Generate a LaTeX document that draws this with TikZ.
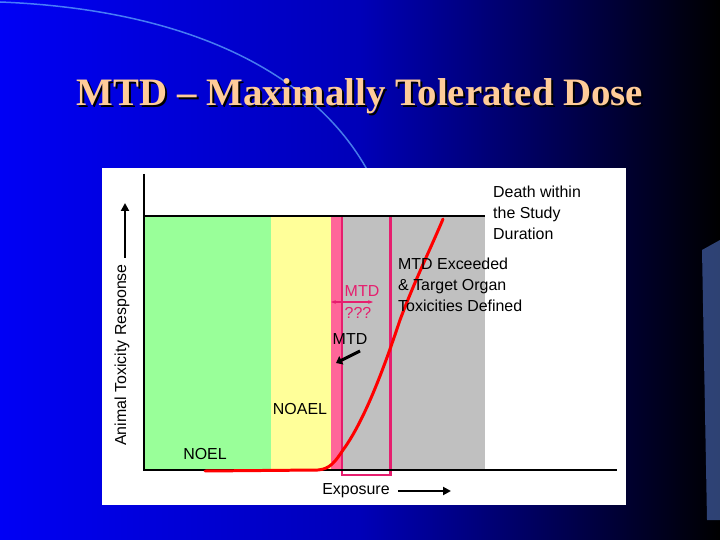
\documentclass[tikz,border=0pt]{standalone}
\usepackage{fontspec}
\setmainfont{Liberation Sans}
\newfontfamily\titlefont{Liberation Serif}
\usetikzlibrary{arrows.meta}
\definecolor{slideblue}{RGB}{0,0,245}
\definecolor{titleorange}{RGB}{255,204,153}
\definecolor{zonegreen}{RGB}{153,255,153}
\definecolor{zoneyellow}{RGB}{255,255,153}
\definecolor{zonepink}{RGB}{255,102,153}
\definecolor{zonegray}{RGB}{192,192,192}
\definecolor{mtdpink}{RGB}{230,30,110}
\begin{document}
\begin{tikzpicture}[x=1bp,y=-1bp,
  label text/.style={font=\fontsize{16}{21}\selectfont,align=left,inner sep=0pt},
  axis line/.style={line width=3pt},
  big arrow/.style={line width=2.5pt,-{Triangle[length=8pt,width=8pt]}}]
  \useasboundingbox (0,0) rectangle (720,540);
  % background
  \shade[left color=slideblue,right color=black,middle color=slideblue!75!black] (0,0) rectangle (720,540);
  \draw[color=blue!50!cyan!60!white,line width=1.5pt,opacity=0.7] (0,2) .. controls (200,10) and (320,80) .. (370,175);
  \fill[blue!70!cyan!60!white,opacity=0.45] (702,250) -- (720,240) -- (720,520) -- (707,520) -- cycle;
  % title
  \node[font=\titlefont\bfseries\fontsize{39}{44}\selectfont,text=black] at (362,98) {MTD \textendash{} Maximally Tolerated Dose};
  \node[font=\titlefont\bfseries\fontsize{39}{44}\selectfont,text=titleorange] (title) at (360,96) {MTD \textendash{} Maximally Tolerated Dose};
  % panel
  \fill[white] (102,168) rectangle (626,505);
  % zones
  \fill[zonegreen] (144,216) rectangle (271,470);
  \fill[zoneyellow] (271,216) rectangle (331,470);
  \fill[zonepink] (331,216) rectangle (341,470);
  \fill[zonegray] (341,216) rectangle (485,470);
  \draw[mtdpink,line width=3pt] (342,216) rectangle (390,475);
  % axes
  \coordinate (origin) at (144,470);
  \draw[axis line] (144,174) -- (origin) -- (617,470);
  \draw[axis line] (144,216) -- (485,216);
  % response curve
  \draw[red,line width=3pt,line cap=round] (205,471) -- (318,470) .. controls (330,469) and (335,462) .. (343,450)
     .. controls (365,420) and (385,365) .. (400,320) .. controls (415,280) and (430,250) .. (443,219);
  % labels
  \node[label text,anchor=north west] (death) at (493,186) {Death within\\the Study\\Duration};
  \node[label text,anchor=north west] (exceeded) at (398,258) {MTD Exceeded\\\& Target Organ\\Toxicities Defined};
  \node[label text,text=mtdpink] (mtdq) at (362,291) {MTD};
  \node[label text,text=mtdpink] (qqq) at (358,313) {???};
  \coordinate (mtdl) at (331,302);
  \coordinate (mtdr) at (373,302);
  \draw[mtdpink,line width=1.2pt,{Stealth[length=5pt]}-{Stealth[length=5pt]}] (mtdl) -- (mtdr);
  \node[label text] (mtd) at (350,339) {MTD};
  \coordinate (mtdtip) at (336,363);
  \draw[line width=3pt,-{Triangle[length=6pt,width=9pt]}] (360,351) -- (mtdtip);
  \node[label text] (noael) at (300,409) {NOAEL};
  \node[label text] (noel) at (205,454) {NOEL};
  \node[label text] (exposure) at (356,491) {Exposure};
  \coordinate (xarrow) at (451,491);
  \draw[big arrow] (exposure.east) ++(8,0) -- (xarrow);
  \node[label text,rotate=90] (response) at (122,355) {Animal Toxicity Response};
  \coordinate (yarrow) at (125,203);
  \draw[big arrow] (response.east) ++(3,-6) -- (yarrow);
\end{tikzpicture}
\end{document}
